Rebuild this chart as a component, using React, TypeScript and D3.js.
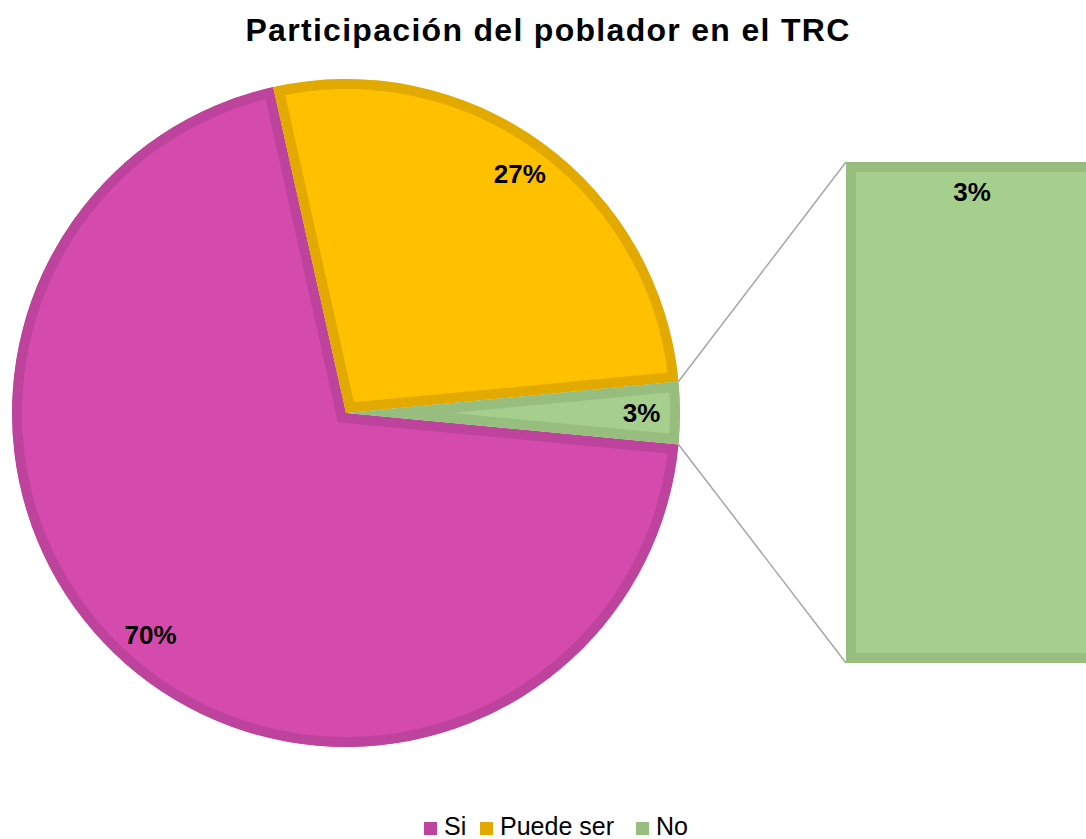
import React from 'react';
import * as d3 from 'd3';

// datos
const categories = ['Si', 'Puede ser', 'No'];
const values = [70, 27, 3];
const fills = ['#D44BAD', '#FFC000', '#A6CF8E'];
const borders = ['#BE439C', '#E2AA00', '#97BE7E'];
const barCategory = 'No';

const W = 1086;
const H = 839;

export default function App() {
  const cx = 346, cy = 413, r = 334;
  const toRad = (deg: number) => (deg * Math.PI) / 180;

  // el sector "No" queda centrado a la derecha (90°)
  const total = d3.sum(values);
  const noIdx = categories.indexOf(barCategory);
  const noSpan = (values[noIdx] / total) * 360;
  const start = 90 + noSpan / 2;

  const pie = d3.pie<number>().sort(null).value(d => d)
    .startAngle(toRad(start)).endAngle(toRad(start + 360));
  const arcs = pie(values);
  const arc = d3.arc<d3.PieArcDatum<number>>().innerRadius(0).outerRadius(r);
  const labelArc = d3.arc<d3.PieArcDatum<number>>().innerRadius(r * 0.885).outerRadius(r * 0.885);

  // barra de "No"
  const barTop = 162, barBottom = 663, barX = 846;
  const yBar = d3.scaleLinear().domain([0, values[noIdx]]).range([barBottom, barTop]);
  const noArc = arcs[noIdx];
  const p1 = [cx + r * Math.sin(noArc.startAngle), cy - r * Math.cos(noArc.startAngle)];
  const p2 = [cx + r * Math.sin(noArc.endAngle), cy - r * Math.cos(noArc.endAngle)];

  const legendX = [424, 480, 636];

  return (
    <svg width={W} height={H} style={{ position: 'absolute', left: 0, top: 0 }}
      fontFamily="'Liberation Sans', Arial, sans-serif">
      <defs>
        {arcs.map((a, i) => (
          <clipPath id={'sliceClip' + i} key={i}>
            <path d={arc(a) || ''} />
          </clipPath>
        ))}
        <clipPath id="barClip">
          <rect x={barX} y={yBar(values[noIdx])} width={300} height={yBar(0) - yBar(values[noIdx])} />
        </clipPath>
      </defs>
      <rect width={W} height={H} fill="#fff" />
      <text x={548} y={41} textAnchor="middle" fontSize={32} fontWeight="bold" letterSpacing={1.3}>
        Participación del poblador en el TRC
      </text>

      <g transform={`translate(${cx},${cy})`}>
        {arcs.map((a, i) => (
          <path key={i} d={arc(a) || ''}
            fill={fills[i]} stroke={borders[i]} strokeWidth={20} clipPath={`url(#sliceClip${i})`} />
        ))}
      </g>

      <line x1={p1[0]} y1={p1[1]} x2={barX} y2={barTop} stroke="#A6A6A6" strokeWidth={1.5} />
      <line x1={p2[0]} y1={p2[1]} x2={barX} y2={barBottom} stroke="#A6A6A6" strokeWidth={1.5} />

      <rect x={barX} y={yBar(values[noIdx])} width={300} height={yBar(0) - yBar(values[noIdx])}
        fill={fills[noIdx]} stroke={borders[noIdx]} strokeWidth={20} clipPath="url(#barClip)" />

      {arcs.map((a, i) => {
        const [lx, ly] = labelArc.centroid(a);
        return (
          <text key={i} x={cx + lx} y={cy + ly + 9} textAnchor="middle" fontSize={26} fontWeight="bold">
            {values[i]}%
          </text>
        );
      })}
      <text x={972} y={201} textAnchor="middle" fontSize={26} fontWeight="bold">{values[noIdx]}%</text>

      {categories.map((c, i) => (
        <g key={c} transform={`translate(${legendX[i]},0)`}>
          <rect x={0} y={822} width={13} height={13} fill={borders[i]} />
          <text x={20} y={835} fontSize={25}>{c}</text>
        </g>
      ))}
    </svg>
  );
}
